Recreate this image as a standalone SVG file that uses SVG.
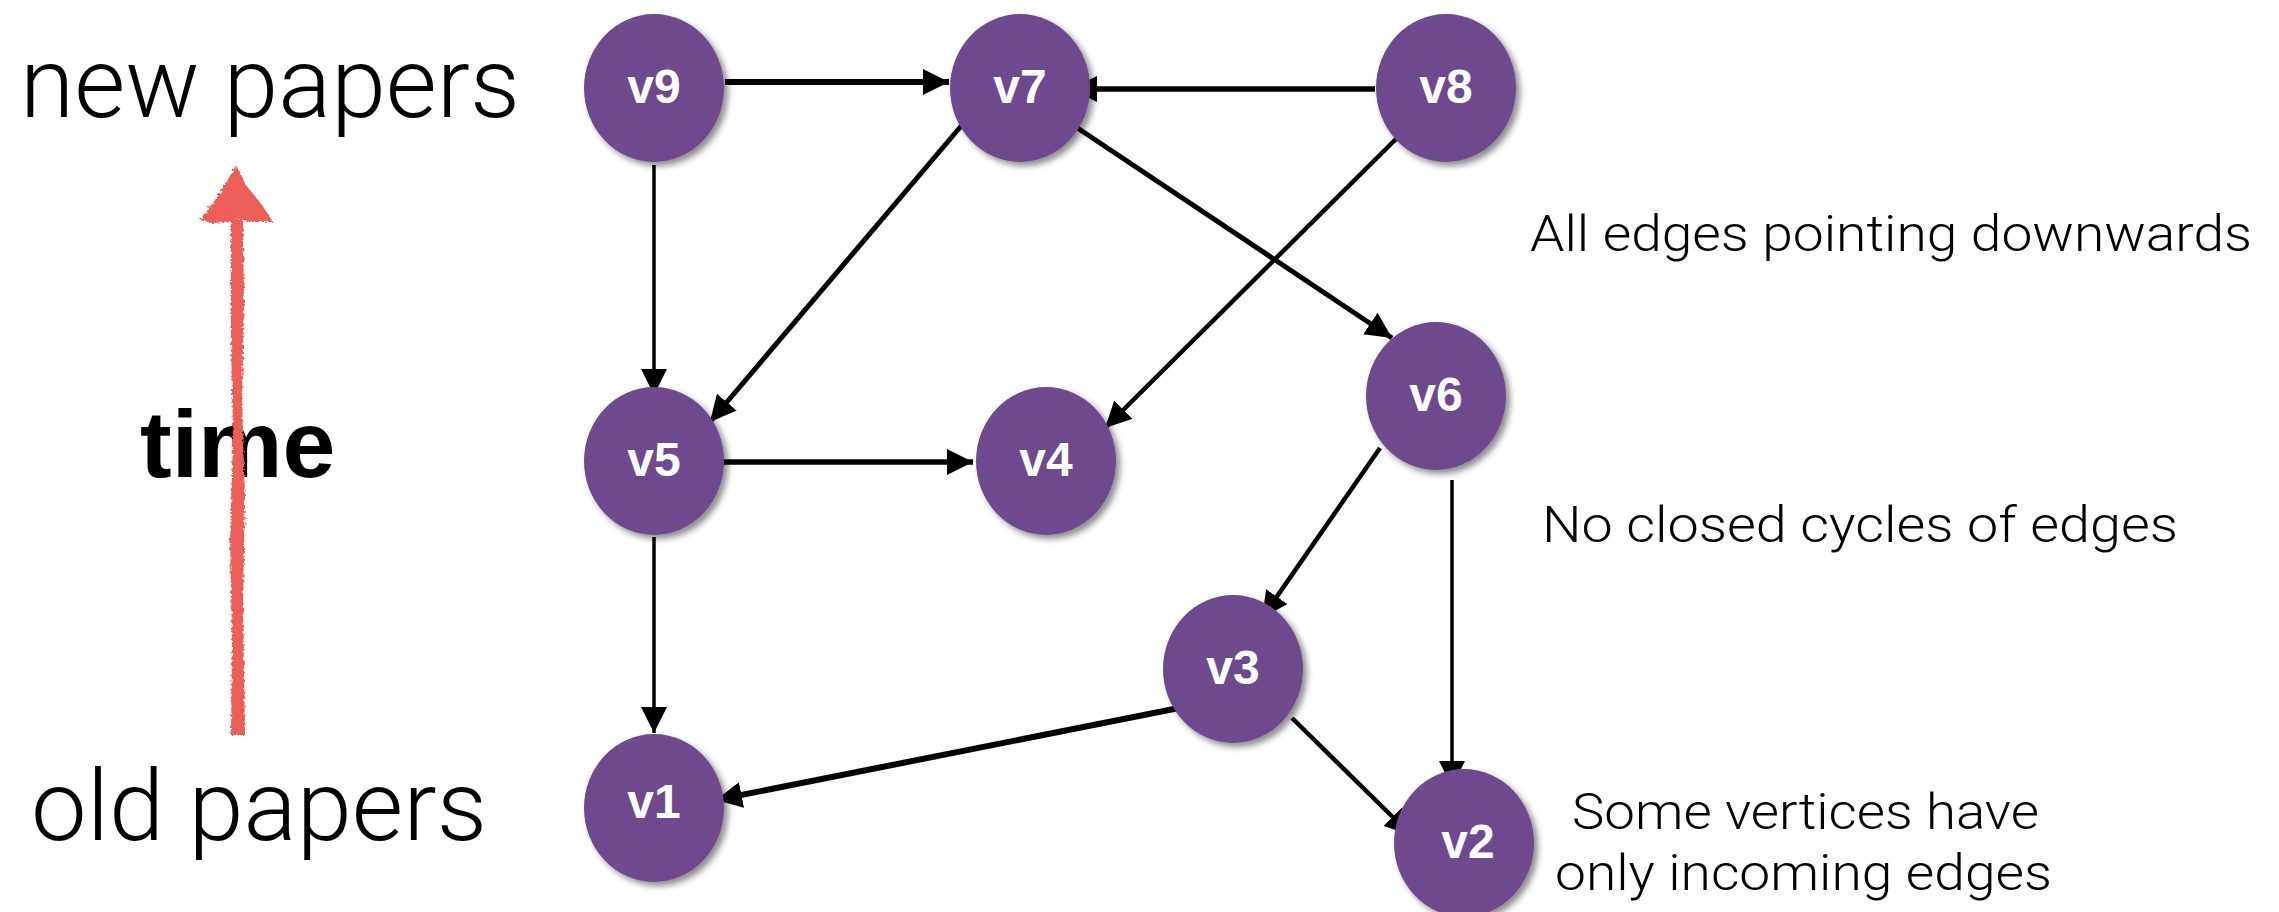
<svg xmlns="http://www.w3.org/2000/svg" width="2279" height="912" viewBox="0 0 2279 912">
<style>
.node ellipse{fill:#6e4a8e;filter:url(#sh)}
.node text{fill:#fff;font-family:"Liberation Sans",Arial,sans-serif;font-weight:bold;font-size:48px;text-anchor:middle}
.edge{stroke:#000;fill:none;marker-end:url(#ah)}
.lbl{font-family:Roboto,"Liberation Sans",sans-serif;font-weight:300;fill:#000}
</style>
<defs>
<filter id="sh" x="-20%" y="-20%" width="150%" height="150%">
<feDropShadow dx="4" dy="4" stdDeviation="3" flood-color="#000" flood-opacity="0.45"/>
</filter>
<filter id="rough" x="-50%" y="-5%" width="200%" height="110%">
<feTurbulence type="fractalNoise" baseFrequency="0.35" numOctaves="2" seed="3"/>
<feDisplacementMap in="SourceGraphic" scale="5"/>
</filter>
<marker id="ah" markerUnits="userSpaceOnUse" markerWidth="28" markerHeight="28" refX="26" refY="13" orient="auto">
<path d="M0,0 L26,13 L0,26 z" fill="#000"/>
</marker>
</defs>
<rect width="2279" height="912" fill="#fff"/>

<text class="lbl" x="20" y="117" font-size="98" textLength="500" lengthAdjust="spacingAndGlyphs">new papers</text>
<text class="lbl" x="31" y="840" font-size="98" textLength="456" lengthAdjust="spacingAndGlyphs">old papers</text>
<text x="140" y="477" font-family="Liberation Sans,Arial,sans-serif" font-weight="bold" font-size="95" fill="#000">time</text>

<g id="time-arrow" fill="#ec5f59" filter="url(#rough)">
<polygon points="236,165 246,185 262,205 273,222 250,222 240,219 232,222 212,223 200,220 213,203 225,185"/>
<path d="M231,220 L243,220 L244,300 L242,400 L245,500 L243,600 L245,735 L231,735 L232,640 L230,540 L233,440 L231,340 z"/>
</g>

<g id="connectors" stroke-linecap="butt">
<line class="edge" x1="725" y1="82" x2="949" y2="82" stroke-width="6"/>
<line class="edge" x1="1375" y1="89" x2="1071" y2="89" stroke-width="5.5"/>
<line class="edge" x1="654" y1="165" x2="654" y2="395" stroke-width="3.5"/>
<line class="edge" x1="962" y1="125" x2="710" y2="422" stroke-width="5"/>
<line class="edge" x1="1073" y1="125" x2="1392" y2="338" stroke-width="5"/>
<line class="edge" x1="1402" y1="133" x2="1105" y2="428" stroke-width="4.5"/>
<line class="edge" x1="718" y1="462" x2="973" y2="462" stroke-width="5.5"/>
<line class="edge" x1="654" y1="537" x2="654" y2="733" stroke-width="3.5"/>
<line class="edge" x1="1380" y1="448" x2="1262" y2="618" stroke-width="4.5"/>
<line class="edge" x1="1452" y1="480" x2="1452" y2="787" stroke-width="3.5"/>
<line class="edge" x1="1179" y1="708" x2="716" y2="800" stroke-width="6"/>
<line class="edge" x1="1292" y1="718" x2="1411" y2="835" stroke-width="4.5"/>
</g>

<g id="v9" class="node"><ellipse cx="654" cy="88" rx="70" ry="74"/><text x="654" y="103">v9</text></g>
<g id="v7" class="node"><ellipse cx="1020" cy="88" rx="70" ry="74"/><text x="1020" y="103">v7</text></g>
<g id="v8" class="node"><ellipse cx="1446" cy="88" rx="70" ry="74"/><text x="1446" y="103">v8</text></g>
<g id="v6" class="node"><ellipse cx="1436" cy="396" rx="70" ry="74"/><text x="1436" y="411">v6</text></g>
<g id="v5" class="node"><ellipse cx="654" cy="461" rx="70" ry="74"/><text x="654" y="476">v5</text></g>
<g id="v4" class="node"><ellipse cx="1046" cy="461" rx="70" ry="74"/><text x="1046" y="476">v4</text></g>
<g id="v3" class="node"><ellipse cx="1233" cy="669" rx="70" ry="74"/><text x="1233" y="684">v3</text></g>
<g id="v1" class="node"><ellipse cx="654" cy="808" rx="70" ry="74"/><text x="654" y="818">v1</text></g>
<g id="v2" class="node"><ellipse cx="1464" cy="843" rx="70" ry="74"/><text x="1468" y="858">v2</text></g>

<text class="lbl" x="1530" y="251" font-size="50" textLength="722" lengthAdjust="spacingAndGlyphs">All edges pointing downwards</text>
<text class="lbl" x="1542" y="542" font-size="50" textLength="636" lengthAdjust="spacingAndGlyphs">No closed cycles of edges</text>
<text class="lbl" x="1572" y="829" font-size="50" textLength="467" lengthAdjust="spacingAndGlyphs">Some vertices have</text>
<text class="lbl" x="1555" y="890" font-size="50" textLength="497" lengthAdjust="spacingAndGlyphs">only incoming edges</text>
</svg>
